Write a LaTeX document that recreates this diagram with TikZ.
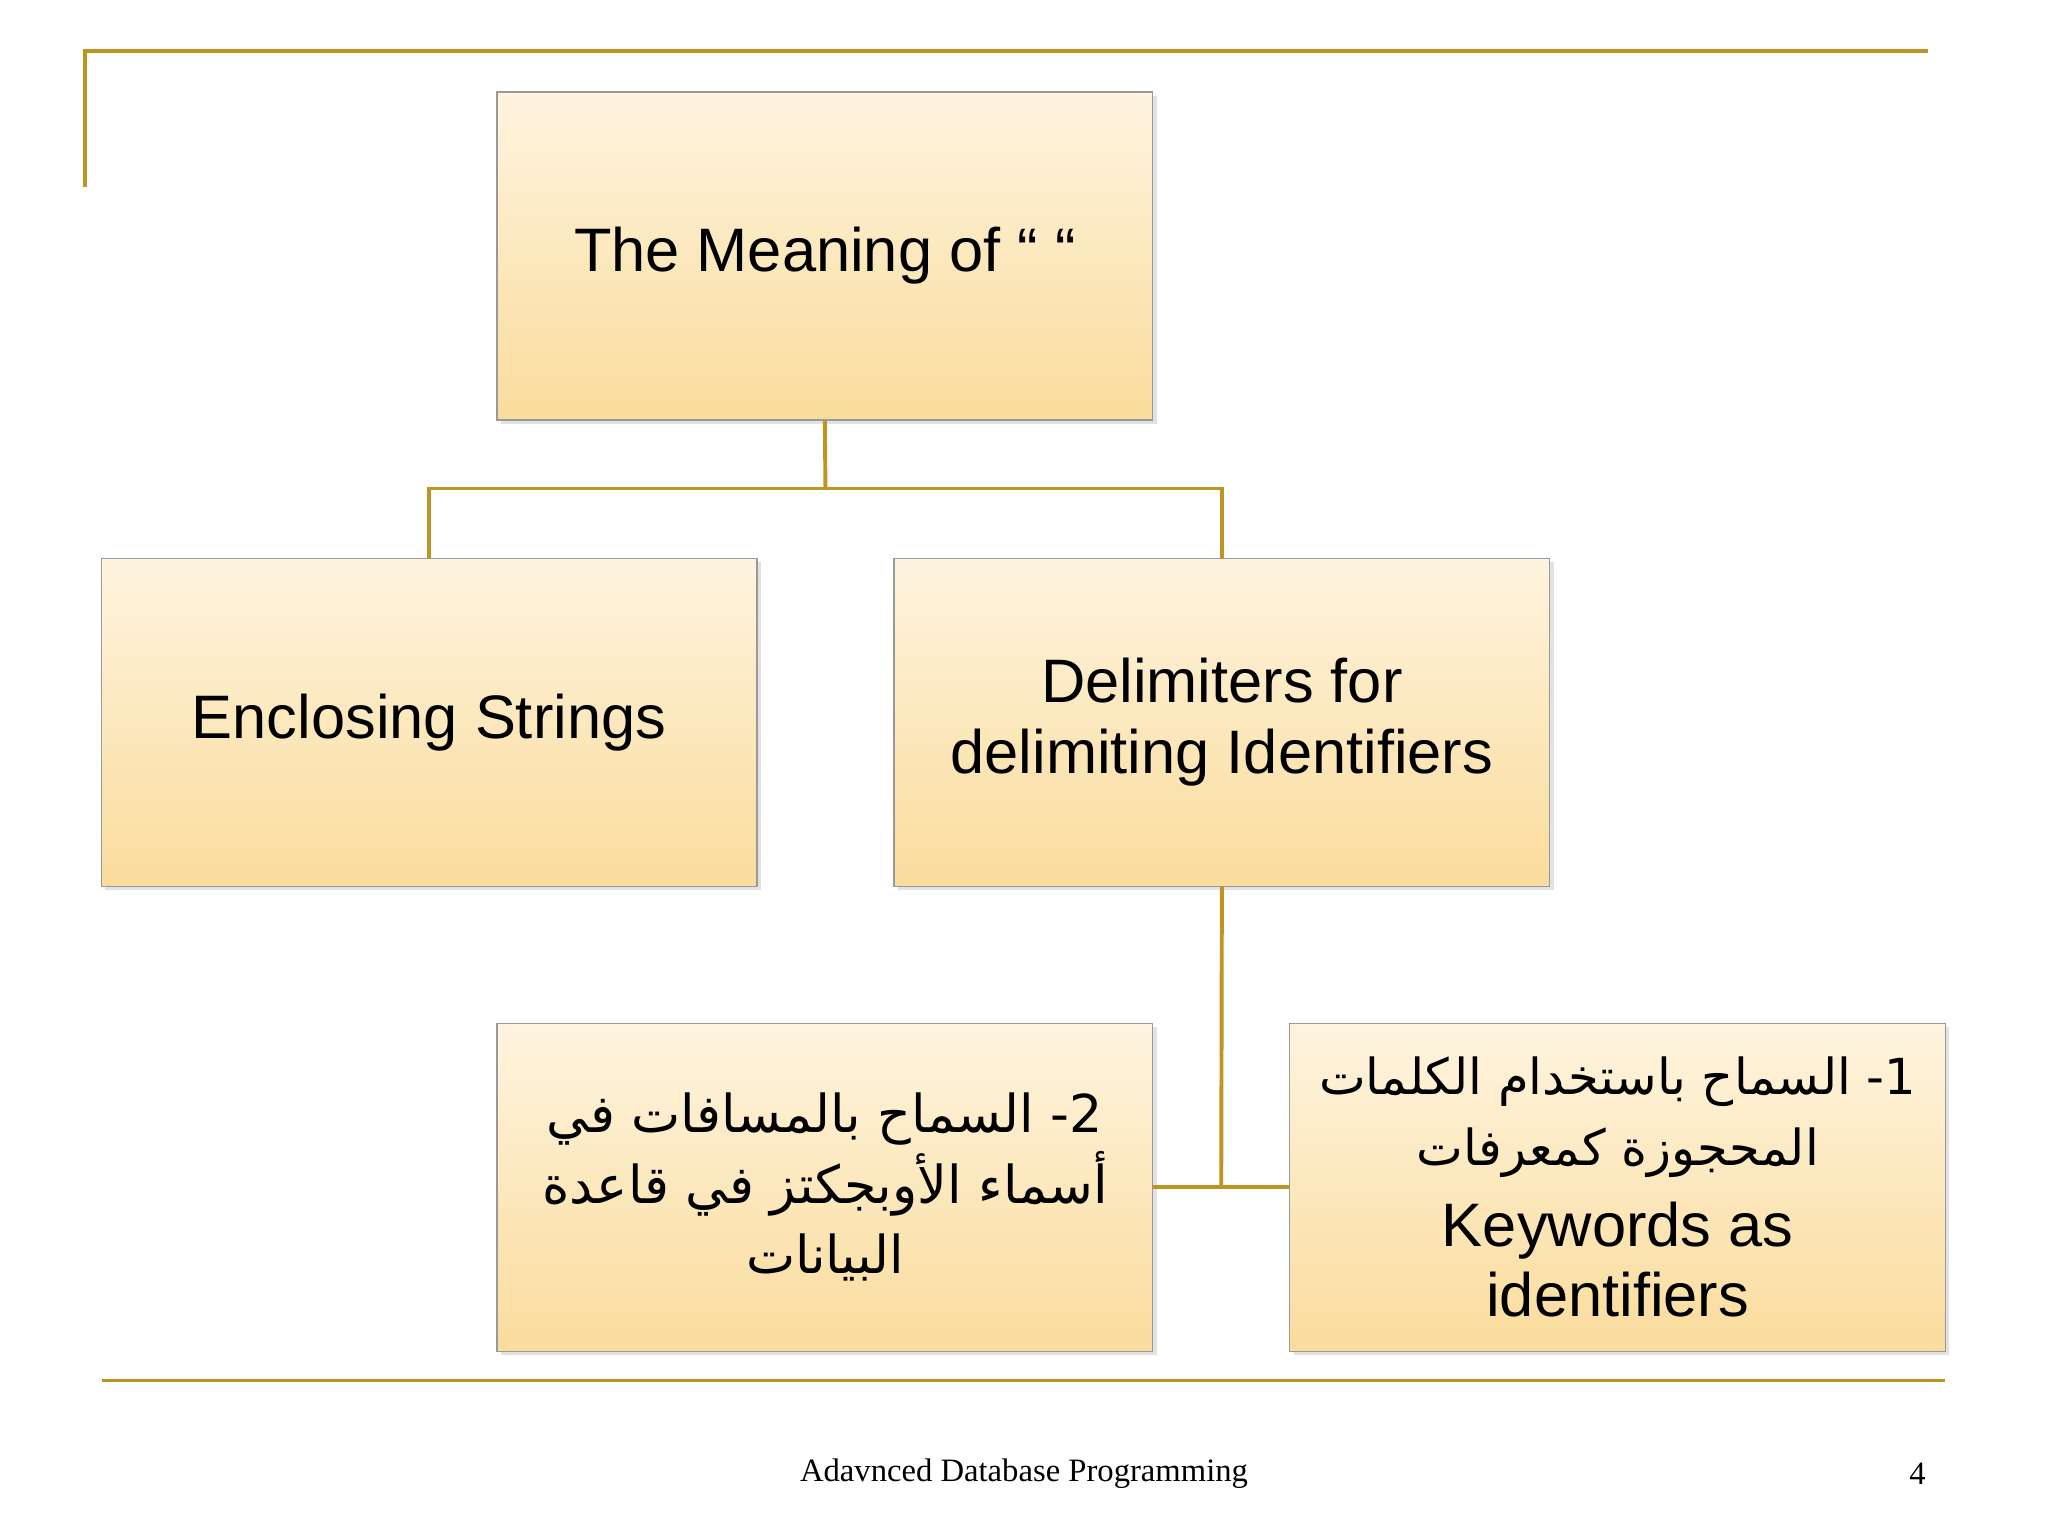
\documentclass[tikz,border=0pt]{standalone}
\usepackage{fontspec}
\setmainfont{Liberation Sans}
\newfontfamily\footfont{Liberation Serif}
\newfontfamily\arabicfont[Script=Arabic]{DejaVu Sans}
\TeXXeTstate=1
\usetikzlibrary{shadows}
\definecolor{gold}{HTML}{BE9520}
\definecolor{boxtop}{HTML}{FEF4DF}
\definecolor{boxbot}{HTML}{FADC9C}
\tikzset{
  box/.style={draw=gray!80, line width=1pt, top color=boxtop, bottom color=boxbot,
    minimum width=502pt, minimum height=251pt, anchor=north west, inner sep=0pt,
    align=center, font=\fontsize{47}{54}\selectfont,
    drop shadow={shadow xshift=3pt, shadow yshift=-3pt, fill=gray!45}},
  link/.style={draw=gold, line width=3pt},
  rule/.style={draw=gold, line width=2.5pt}
}
\begin{document}
\begin{tikzpicture}[x=1pt,y=-1pt]
\useasboundingbox[fill=white] (0,0) rectangle (1568,1176);
\draw[rule] (65,143) -- (65,39) -- (1476,39);
\draw[rule] (78,1057) -- (1489,1057);
\node[box] (root) at (380,70) {The Meaning of “ “};
\node[box] (enc) at (77,427) {Enclosing Strings};
\node[box] (del) at (684,427) {Delimiters for\\delimiting Identifiers};
\node[box] (sp) at (380,783) {\fontsize{40}{54}\selectfont\arabicfont\beginR 2- السماح بالمسافات في\endR\\\fontsize{40}{54}\selectfont\arabicfont\beginR أسماء الأوبجكتز في قاعدة\endR\\\fontsize{40}{54}\selectfont\arabicfont\beginR البيانات\endR};
\node[box] (kw) at (987,783) {\fontsize{38}{52}\selectfont\arabicfont\beginR 1- السماح باستخدام الكلمات\endR\\\fontsize{38}{52}\selectfont\arabicfont\beginR المحجوزة كمعرفات\endR\\[8pt]Keywords as\\identifiers};
\coordinate (j1) at (632,374);
\coordinate (j2) at (935,908);
\draw[link] (root.south) -- (j1);
\draw[link] (j1) -| (enc.north);
\draw[link] (j1) -| (del.north);
\draw[link] (del.south) -- (j2);
\draw[link] (sp.east) -- (kw.west);
\node[font=\footfont\fontsize{25}{30}\selectfont] (foot) at (784,1128) {Adavnced Database Programming};
\node[font=\footfont\fontsize{25}{30}\selectfont] (num) at (1468,1128) {4};
\end{tikzpicture}
\end{document}
